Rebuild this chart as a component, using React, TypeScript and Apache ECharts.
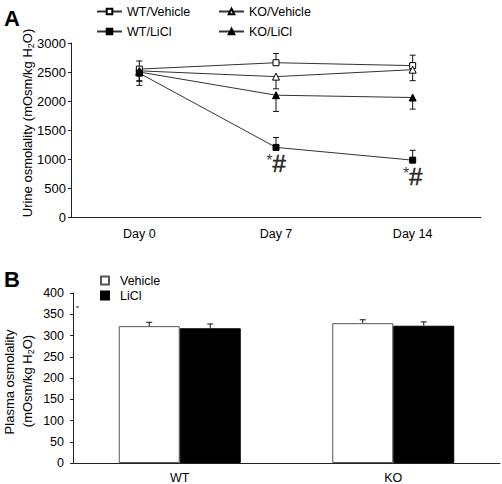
import React, { useEffect, useRef } from "react";
import * as echarts from "echarts";

// Panel A: urine osmolality over time
const days = ["Day 0", "Day 7", "Day 14"];
const urineTicks = [0, 500, 1000, 1500, 2000, 2500, 3000];
const wtVehicle = [2550, 2660, 2610];
const wtVehicleErr = [140, 160, 180]; // positive = bar drawn upward, negative = downward
const koVehicle = [2520, 2420, 2540];
const koVehicleErr = [-180, -210, -190];
const wtLicl = [2480, 1200, 980];
const wtLiclErr = [-210, 170, 170];
const koLicl = [2500, 2100, 2060];
const koLiclErr = [-150, -280, -200];
const sigMarks = ["", "*#", "*#"];

// Panel B: plasma osmolality
const groups = ["WT", "KO"];
const plasmaVehicle = [322, 329];
const plasmaVehicleErr = [9, 8];
const plasmaLicl = [317, 323];
const plasmaLiclErr = [10, 9];

const FONT = "Liberation Sans";

function errSeries(name: string, vals: number[], errs: number[], xAxisIndex: number, yAxisIndex: number, offset: number, cap: number) {
  return {
    type: "custom",
    name,
    xAxisIndex,
    yAxisIndex,
    silent: true,
    z: 5,
    data: vals.map((v, i) => [i, v, v + errs[i]]),
    renderItem: (params: any, api: any) => {
      const p0 = api.coord([api.value(0), api.value(1)]);
      const p1 = api.coord([api.value(0), api.value(2)]);
      const x = p0[0] + offset;
      const st = { stroke: "#111", lineWidth: 1 };
      return {
        type: "group",
        children: [
          { type: "line", shape: { x1: x, y1: p0[1], x2: x, y2: p1[1] }, style: st },
          { type: "line", shape: { x1: x - cap, y1: p1[1], x2: x + cap, y2: p1[1] }, style: st },
        ],
      };
    },
  };
}

export default function App() {
  const ref = useRef<HTMLDivElement>(null);
  useEffect(() => {
    if (!ref.current) return;
    const chart = echarts.init(ref.current, undefined, { renderer: "svg" });
    const lineColor = "#333";
    const mkLine = (name: string, data: number[], symbol: string, filled: boolean, size: number) => ({
      type: "line",
      name,
      xAxisIndex: 0,
      yAxisIndex: 0,
      data,
      symbol,
      symbolSize: size,
      z: 6,
      lineStyle: { color: lineColor, width: 1 },
      itemStyle: { color: filled ? "#000" : "#fff", borderColor: "#000", borderWidth: 1 },
    });
    const legendItem = (name: string, left: number, top: number) => ({
      left,
      top,
      data: [name],
      itemWidth: 25,
      itemHeight: 7,
      selectedMode: false,
      textStyle: { fontFamily: FONT, fontSize: 12.5, color: "#000" },
    });
    const axisLineStyle = { lineStyle: { color: "#222", width: 1 } };
    const plain = (v: number) => String(v);
    chart.setOption({
      animation: false,
      backgroundColor: "#fff",
      legend: [
        legendItem("WT/Vehicle", 91, 0),
        legendItem("KO/Vehicle", 213, 0),
        legendItem("WT/LiCl", 91, 20),
        legendItem("KO/LiCl", 213, 20),
        {
          left: 95,
          top: 269,
          orient: "vertical",
          data: ["Vehicle", "LiCl"],
          icon: "rect",
          itemWidth: 8,
          itemHeight: 8,
          itemGap: 2,
          selectedMode: false,
          textStyle: { fontFamily: FONT, fontSize: 12.5, color: "#000", padding: [0, 0, 0, 6] },
        },
      ],
      grid: [
        { left: 71, right: 21, top: 43, bottom: 267 },
        { left: 73, right: 2, top: 293, bottom: 20 },
      ],
      xAxis: [
        {
          type: "category",
          gridIndex: 0,
          data: days,
          boundaryGap: true,
          axisLine: axisLineStyle,
          axisTick: { length: 3, lineStyle: { color: "#222" } },
          axisLabel: { fontFamily: FONT, fontSize: 12.5, color: "#000", margin: 10 },
        },
        {
          type: "category",
          gridIndex: 1,
          data: groups,
          boundaryGap: true,
          axisLine: axisLineStyle,
          axisTick: { length: 3, inside: true, lineStyle: { color: "#222" } },
          axisLabel: { fontFamily: FONT, fontSize: 12.5, color: "#000", margin: 8 },
        },
      ],
      yAxis: [
        {
          type: "value",
          gridIndex: 0,
          min: urineTicks[0],
          max: urineTicks[urineTicks.length - 1],
          interval: 500,
          splitLine: { show: false },
          axisLine: { show: true, ...axisLineStyle },
          axisTick: { show: true, length: 3, lineStyle: { color: "#222" } },
          axisLabel: { fontFamily: FONT, fontSize: 13, color: "#000", margin: 5, formatter: plain },
        },
        {
          type: "value",
          gridIndex: 1,
          min: 0,
          max: 400,
          interval: 50,
          splitLine: { show: false },
          axisLine: { show: true, ...axisLineStyle },
          axisTick: { show: true, length: 3, lineStyle: { color: "#222" } },
          axisLabel: { fontFamily: FONT, fontSize: 12.5, color: "#000", margin: 9, formatter: plain },
        },
      ],
      series: [
        mkLine("WT/Vehicle", wtVehicle, "rect", false, 6),
        mkLine("KO/Vehicle", koVehicle, "triangle", false, 7),
        mkLine("WT/LiCl", wtLicl, "rect", true, 6),
        mkLine("KO/LiCl", koLicl, "triangle", true, 7),
        errSeries("errWTV", wtVehicle, wtVehicleErr, 0, 0, 0, 3),
        errSeries("errKOV", koVehicle, koVehicleErr, 0, 0, 0, 3),
        errSeries("errWTL", wtLicl, wtLiclErr, 0, 0, 0, 3),
        errSeries("errKOL", koLicl, koLiclErr, 0, 0, 0, 3),
        {
          type: "scatter",
          name: "sig",
          xAxisIndex: 0,
          yAxisIndex: 0,
          symbolSize: 0,
          silent: true,
          data: wtLicl.map((v, i) => ({
            value: v,
            label: {
              show: sigMarks[i] !== "",
              position: "bottom",
              distance: 5,
              formatter: sigMarks[i] ? "{a|*}{b|#}" : "",
              rich: {
                a: { fontFamily: FONT, fontSize: 16, color: "#000", verticalAlign: "top", lineHeight: 22 },
                b: { fontFamily: FONT, fontSize: 24, color: "#000", lineHeight: 22, textBorderColor: "#000", textBorderWidth: 0.6 },
              },
            },
          })),
        },
        {
          type: "bar",
          name: "Vehicle",
          xAxisIndex: 1,
          yAxisIndex: 1,
          data: plasmaVehicle,
          barWidth: 61,
          barGap: "0%",
          itemStyle: { color: "#fff", borderColor: "#555", borderWidth: 1 },
        },
        {
          type: "bar",
          name: "LiCl",
          xAxisIndex: 1,
          yAxisIndex: 1,
          data: plasmaLicl,
          barWidth: 61,
          barGap: "0%",
          itemStyle: { color: "#000", borderColor: "#000", borderWidth: 1 },
        },
        errSeries("errPV", plasmaVehicle, plasmaVehicleErr, 1, 1, -30.5, 3),
        errSeries("errPL", plasmaLicl, plasmaLiclErr, 1, 1, 30.5, 3),
      ],
      graphic: [
        { type: "text", left: 4, top: 7, style: { text: "A", font: `bold 22px ${FONT}`, fill: "#000" } },
        { type: "text", left: 4, top: 268, style: { text: "B", font: `bold 22px ${FONT}`, fill: "#000" } },
        {
          type: "text",
          x: 27,
          y: 123,
          rotation: Math.PI / 2,
          style: {
            text: "{a|Urine osmolality (mOsm/kg H}{s|2}{a|O)}",
            align: "center",
            verticalAlign: "middle",
            rich: {
              a: { fontFamily: FONT, fontSize: 13, fill: "#000", lineHeight: 16 },
              s: { fontFamily: FONT, fontSize: 9, fill: "#000", verticalAlign: "bottom", lineHeight: 16 },
            },
          },
        },
        {
          type: "text",
          x: 9,
          y: 382,
          rotation: Math.PI / 2,
          style: {
            text: "Plasma osmolality",
            align: "center",
            verticalAlign: "middle",
            font: `13px ${FONT}`,
            fill: "#000",
          },
        },
        {
          type: "text",
          x: 27,
          y: 381,
          rotation: Math.PI / 2,
          style: {
            text: "{a|(mOsm/kg H}{s|2}{a|O)}",
            align: "center",
            verticalAlign: "middle",
            rich: {
              a: { fontFamily: FONT, fontSize: 13, fill: "#000", lineHeight: 16 },
              s: { fontFamily: FONT, fontSize: 9, fill: "#000", verticalAlign: "bottom", lineHeight: 16 },
            },
          },
        },
        { type: "line", shape: { x1: 76, y1: 307, x2: 79, y2: 307 }, style: { stroke: "#222", lineWidth: 1 } },
      ],
    });
    return () => chart.dispose();
  }, []);
  return <div ref={ref} style={{ width: 502, height: 484, position: "absolute", left: 0, top: 0 }} />;
}
